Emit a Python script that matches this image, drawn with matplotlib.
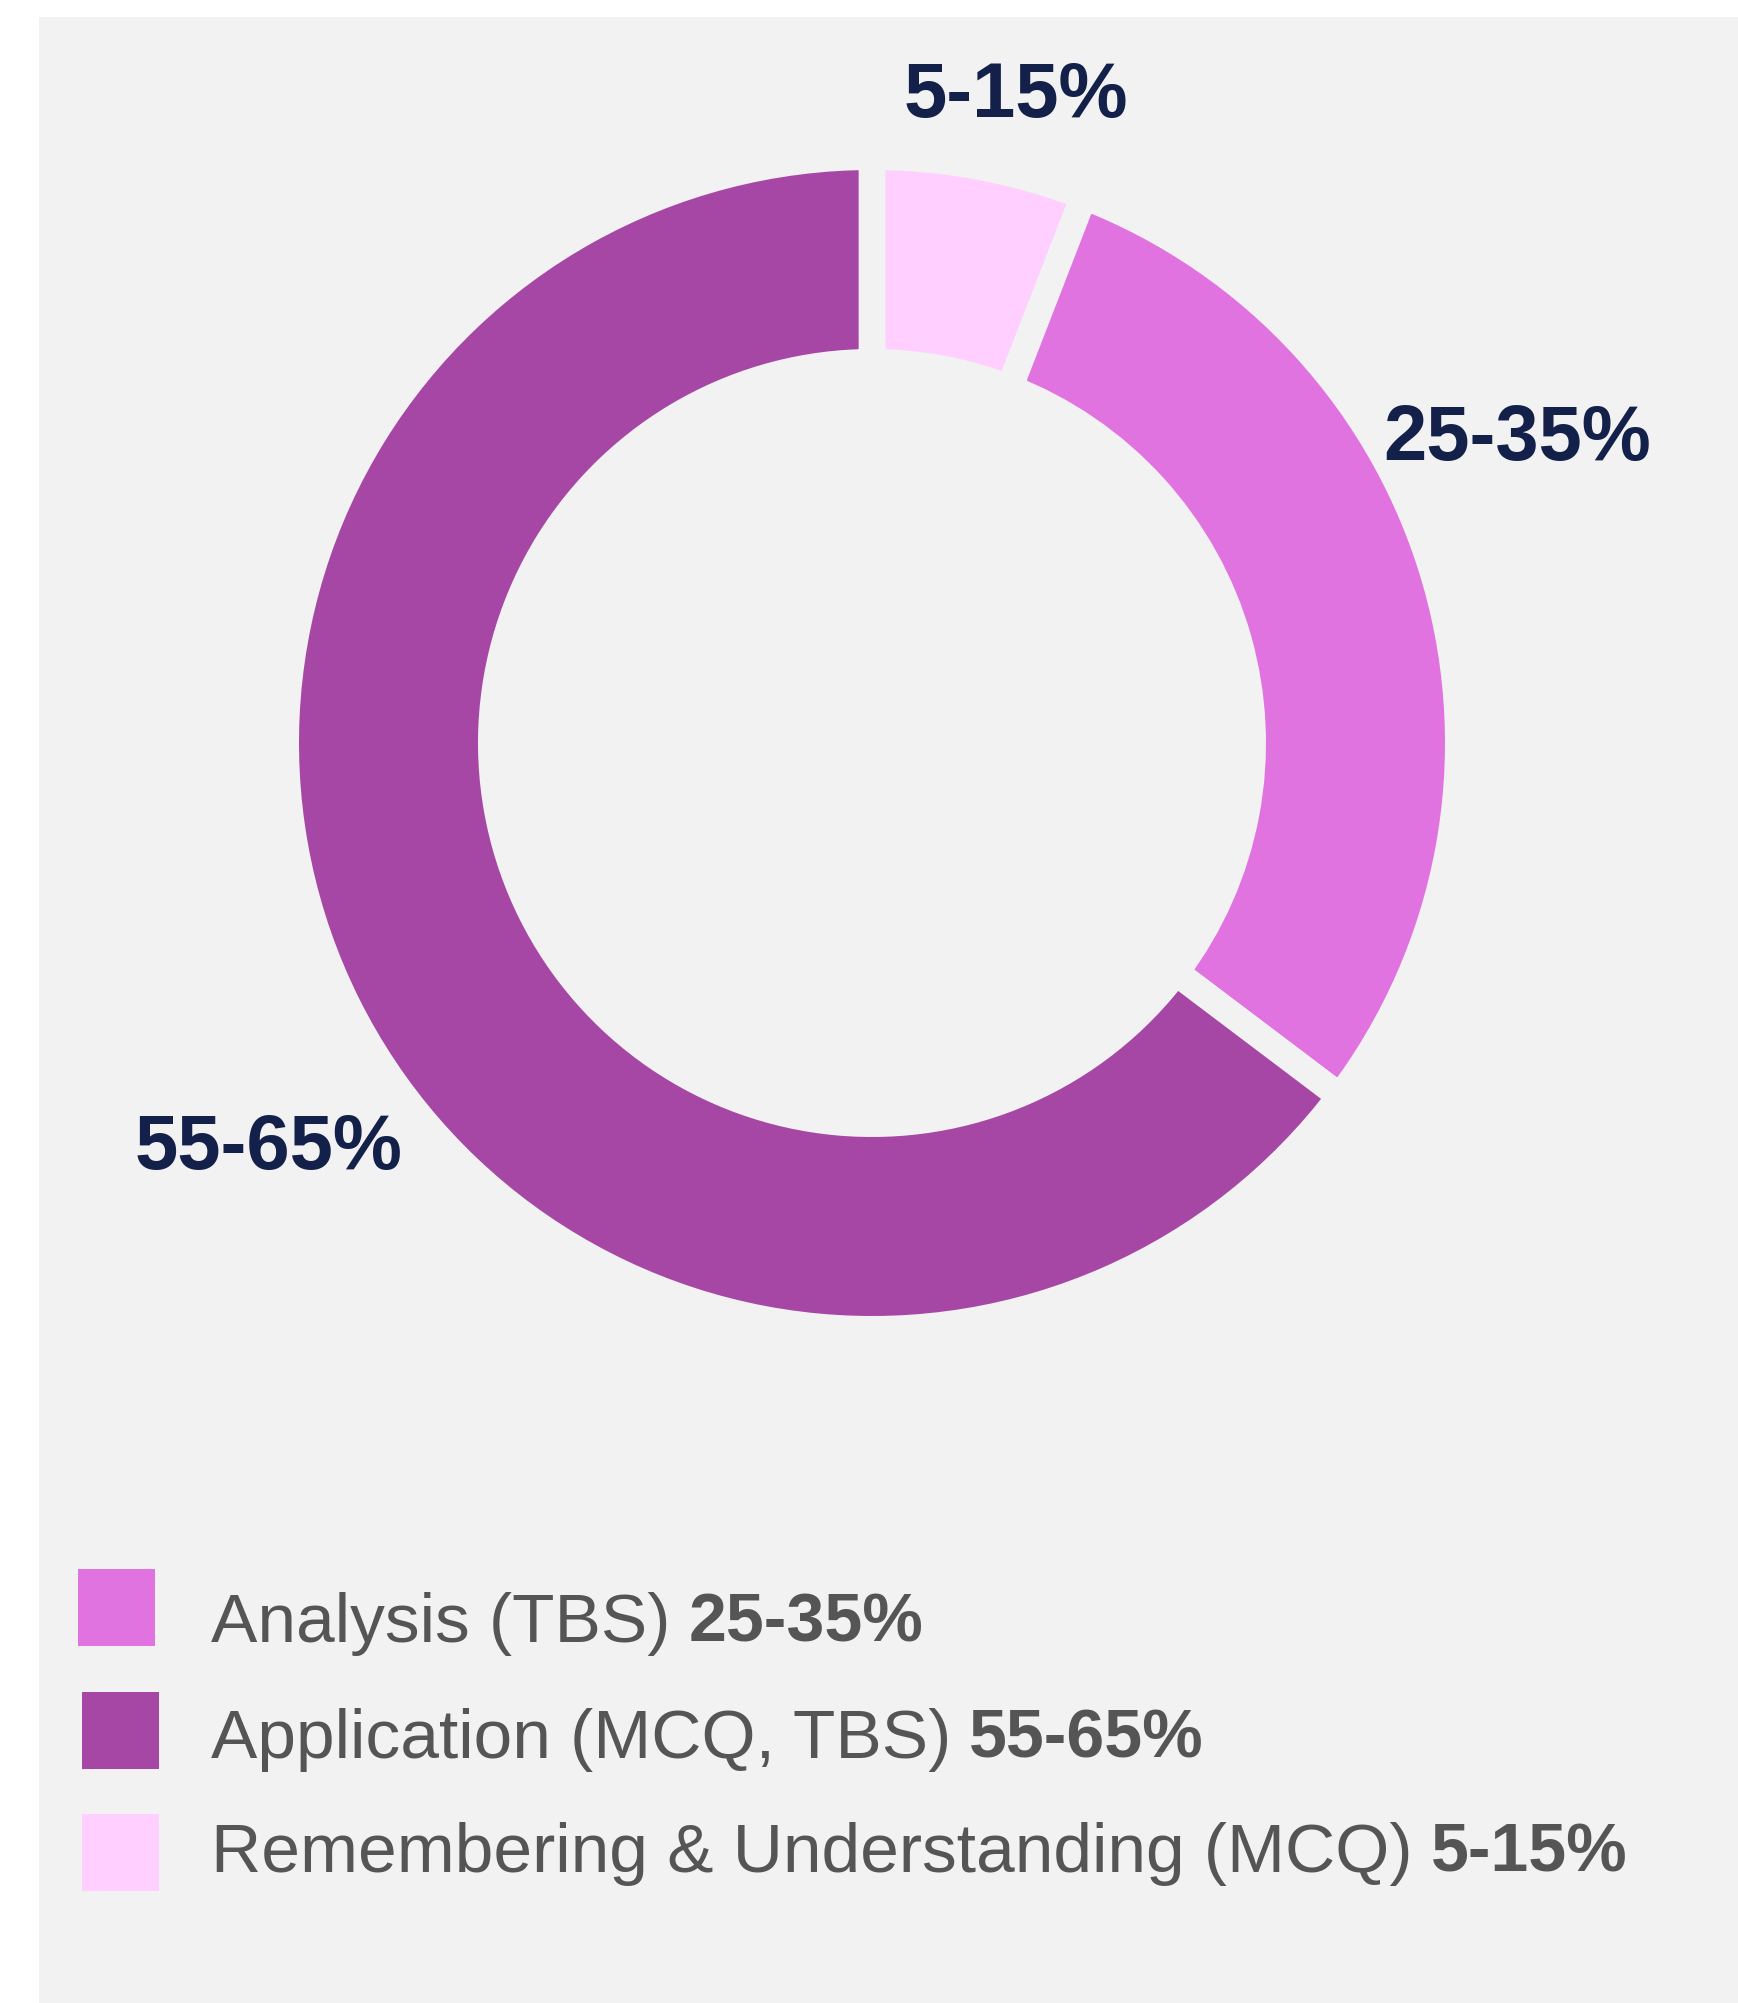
import matplotlib
matplotlib.use("Agg")
import matplotlib.pyplot as plt
import numpy as np
from matplotlib.patches import Rectangle

plt.rcParams["font.family"] = ["Liberation Sans", "DejaVu Sans"]

# data
categories = ["Remembering & Understanding (MCQ)", "Analysis (TBS)", "Application (MCQ, TBS)"]
low = [5, 25, 55]
high = [15, 35, 65]
colors = ["#ffd0ff", "#e073e0", "#a747a5"]
legend_order = [1, 2, 0]

# label placement tweaks (radius in outer-radius units, shift in degrees)
label_radius = [1.17, 1.25, 1.262]
label_shift = [1.8, -9.9, -6.9]

bg = "#f2f2f2"
navy = "#13204a"
grey = "#555555"

W, H, dpi = 1738, 2003, 100
cx, cy, R = 872, 743, 573.0
gap_px = 26.7

fig = plt.figure(figsize=(W / dpi, H / dpi), dpi=dpi, facecolor="white")
fig.add_artist(Rectangle((39 / W, 0), 1, 1 - 17 / H, transform=fig.transFigure,
                         facecolor=bg, edgecolor="none", zorder=-1))
ax = fig.add_axes([0, 0, 1, 1])
ax.set_facecolor("none")

r_out = (R + gap_px / 2) / R
r_in = (394 - gap_px / 2) / R
wedges, _ = ax.pie(low, colors=colors, startangle=90, counterclock=False,
                   radius=r_out,
                   wedgeprops=dict(width=r_out - r_in, edgecolor=bg,
                                   linewidth=gap_px * 72 / dpi))

ax.set_xlim(-cx / R, (W - cx) / R)
ax.set_ylim(-(H - cy) / R, cy / R)
ax.set_aspect("auto")
ax.axis("off")

# outside labels
for w, lo, hi, rr, sh in zip(wedges, low, high, label_radius, label_shift):
    mid = np.deg2rad((w.theta1 + w.theta2) / 2 - sh)
    ax.text(rr * np.cos(mid), rr * np.sin(mid), f"{lo}-{hi}%",
            ha="center", va="center_baseline", fontsize=56,
            fontweight="bold", color=navy)

# legend, drawn by hand (square tops / text baselines in pixels from top)
sq_left = [78, 82, 82]
sq_top = [1569, 1692, 1814]
sq_size = 77
txt_left = 211
txt_base = [1642, 1758, 1872]

renderer = fig.canvas.get_renderer()
for k, i in enumerate(legend_order):
    fig.add_artist(Rectangle((sq_left[k] / W, 1 - (sq_top[k] + sq_size) / H),
                             sq_size / W, sq_size / H, transform=fig.transFigure,
                             facecolor=colors[i], edgecolor="none"))
    t = fig.text(txt_left / W, 1 - txt_base[k] / H, categories[i],
                 ha="left", va="baseline", fontsize=50, color=grey)
    bb = t.get_window_extent(renderer)
    fig.text((bb.x1 + 18) / W, 1 - txt_base[k] / H, f"{low[i]}-{high[i]}%",
             ha="left", va="baseline", fontsize=49, fontweight="bold", color=grey)

fig.savefig("out.png", dpi=dpi, facecolor="white")
